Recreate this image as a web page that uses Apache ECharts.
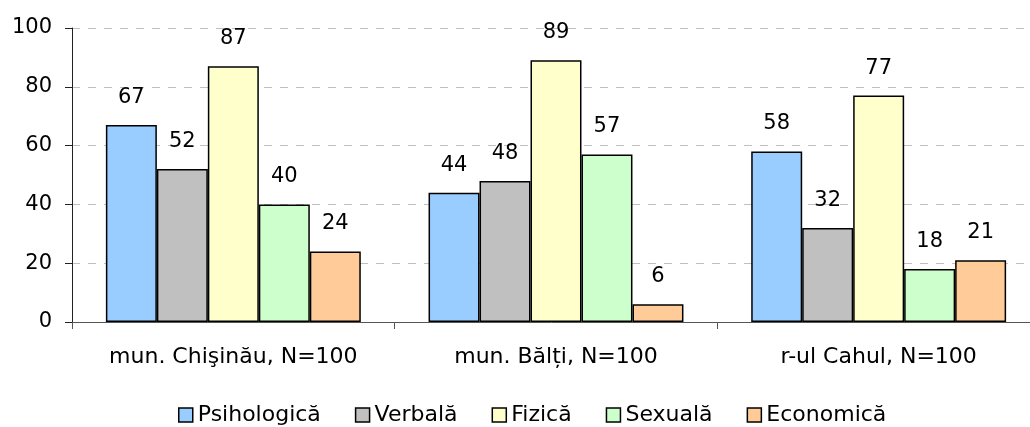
<!DOCTYPE html>
<html><head><meta charset="utf-8">
<script src="https://cdn.jsdelivr.net/npm/echarts@6/dist/echarts.min.js"></script>
<style>html,body{margin:0;padding:0;background:#fff}#c{width:1030px;height:427px}</style>
</head><body><div id="c"></div>
<script>
const categories = ['mun. Chişinău, N=100', 'mun. Bălți, N=100', 'r-ul Cahul, N=100'];
const seriesNames = ['Psihologică', 'Verbală', 'Fizică', 'Sexuală', 'Economică'];
const psihologica = [67, 44, 58];
const verbala = [52, 48, 32];
const fizica = [87, 89, 77];
const sexuala = [40, 57, 18];
const economica = [24, 6, 21];
const yTicks = [0, 20, 40, 60, 80, 100];
const colors = ['#99CCFF', '#C0C0C0', '#FFFFCC', '#CCFFCC', '#FFCC99'];
const values = [psihologica, verbala, fizica, sexuala, economica];
const font = 'DejaVu Sans, sans-serif';

const chart = echarts.init(document.getElementById('c'));
chart.setOption({
  animation: false,
  grid: { left: 72, width: 968, top: 28, bottom: 105, containLabel: false, outerBoundsMode: 'none' },
  legend: {
    top: 399, left: 173, itemWidth: 14, itemHeight: 14, itemGap: 34,
    icon: 'rect',
    textStyle: { fontFamily: font, fontSize: 22, color: '#000' },
    data: seriesNames.map((n, i) => ({ name: n, itemStyle: { color: colors[i], borderColor: '#000', borderWidth: 1.5 } }))
  },
  xAxis: {
    type: 'category', data: categories,
    axisLine: { lineStyle: { color: '#555', width: 1 } },
    axisTick: { show: true, length: 7, lineStyle: { color: '#555' } },
    axisLabel: { interval: 0, fontFamily: font, fontSize: 22, color: '#000', margin: 24 }
  },
  yAxis: {
    type: 'value', min: 0, max: 100, interval: 20,
    axisLine: { show: true, lineStyle: { color: '#222', width: 1 } },
    axisTick: { show: true, length: 7, lineStyle: { color: '#222' } },
    axisLabel: { fontFamily: font, fontSize: 21, color: '#000', margin: 20,
      formatter: v => yTicks.includes(v) ? String(v) : '' },
    splitLine: { lineStyle: { color: '#c0c0c0', type: [8, 8], width: 1 } }
  },
  series: seriesNames.map((n, i) => ({
    name: n, type: 'bar', data: values[i],
    barGap: '0%', barCategoryGap: '21%',
    itemStyle: { color: colors[i], borderColor: '#000', borderWidth: 1.5 },
    label: { show: true, position: 'top', distance: 17, fontFamily: font, fontSize: 21, color: '#000' }
  }))
});
</script></body></html>
